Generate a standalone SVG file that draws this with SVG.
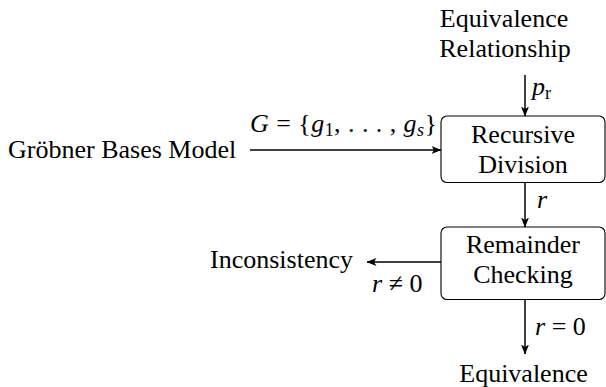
<svg xmlns="http://www.w3.org/2000/svg" width="606" height="387" viewBox="0 0 606 387">
<style>
text{font-size:26px;fill:#000}
.c{text-anchor:middle}
.it{font-style:italic}
.box{fill:#fff;stroke:#000;stroke-width:1.1}
.edge{stroke:#000;stroke-width:1.5;fill:none;marker-end:url(#arr)}
</style>
<defs>
<marker id="arr" viewBox="0 0 10 8" refX="9.5" refY="4" markerWidth="10" markerHeight="8" markerUnits="userSpaceOnUse" orient="auto">
<path d="M0,0 L10,4 L0,8 L2.5,4 z" fill="#000"/>
</marker>
</defs>
<g font-family="Liberation Serif, Tinos, Times New Roman, serif">
<g id="equiv-rel">
<text class="c" x="504" y="27">Equivalence</text>
<text class="c" x="505" y="57">Relationship</text>
</g>
<g id="grobner">
<text x="8" y="158">Gröbner Bases Model</text>
</g>
<g id="recursive-division">
<rect class="box" x="441" y="116" width="164" height="66.5" rx="6"/>
<text class="c" x="523" y="143">Recursive</text>
<text class="c" x="523" y="173">Division</text>
</g>
<g id="remainder-checking">
<rect class="box" x="441" y="227" width="164" height="72.5" rx="6"/>
<text class="c" x="523" y="253">Remainder</text>
<text class="c" x="523" y="283">Checking</text>
</g>
<g id="inconsistency">
<text x="210" y="268">Inconsistency</text>
</g>
<g id="equivalence">
<text class="c" x="523.5" y="382">Equivalence</text>
</g>
<g id="connectors">
<line class="edge" x1="525" y1="75" x2="525" y2="116"/>
<text x="532" y="95"><tspan class="it">p</tspan><tspan font-size="18" dy="4">r</tspan></text>
<line class="edge" x1="250" y1="150" x2="441" y2="150"/>
<text x="250" y="132" textLength="187" lengthAdjust="spacing"><tspan class="it">G</tspan> = {<tspan class="it">g</tspan><tspan font-size="18" dy="4">1</tspan><tspan dy="-4">, . . . , </tspan><tspan class="it">g</tspan><tspan class="it" font-size="18" dy="4">s</tspan><tspan dy="-4">}</tspan></text>
<line class="edge" x1="525" y1="182.5" x2="525" y2="227"/>
<text class="it" x="537" y="208">r</text>
<line class="edge" x1="441" y1="262" x2="367" y2="262"/>
<text x="372" y="292"><tspan class="it">r</tspan> ≠ 0</text>
<line class="edge" x1="525" y1="299.5" x2="525" y2="354"/>
<text x="535" y="335"><tspan class="it">r</tspan> = 0</text>
</g>
</g>
</svg>
